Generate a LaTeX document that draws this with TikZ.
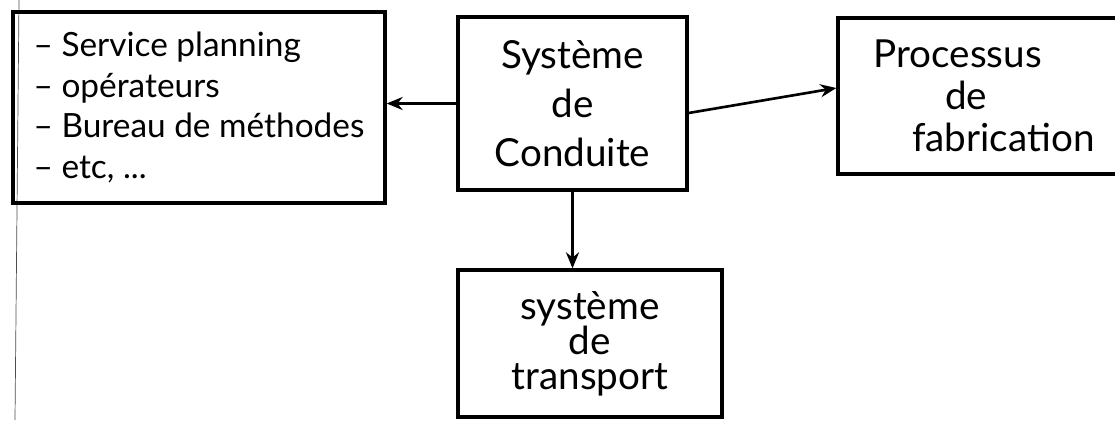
\documentclass[tikz,border=0pt]{standalone}
\usepackage{fontspec}
\setmainfont{Lato}
\usetikzlibrary{positioning, arrows.meta, calc}
\tikzstyle{block} = [draw=black, line width=1.9pt, rectangle, inner sep=0pt]
\tikzstyle{arrow} = [line width=1.5pt, black, -{Stealth[length=3.2mm, width=2.6mm]}]

\begin{document}
\begin{tikzpicture}[x=0.02cm, y=-0.02cm]
                \useasboundingbox (0,0) rectangle (1115,420);
                \clip (0,0) rectangle (1115,420);

                % Margin of the sheet
                \draw[thin, black!70] (19,0) -- (15,420);

                % Blocks
                \node[block, minimum width=7.44cm, minimum height=3.82cm, align=left,
                      font=\fontsize{19}{23}\selectfont] (acteurs) at (199,107.5)
                      {-- Service planning\\-- opérateurs\\-- Bureau de méthodes\\-- etc, ...};
                \node[block, minimum width=4.58cm, minimum height=3.46cm, align=center,
                      font=\fontsize{22}{28}\selectfont] (conduite) at (572.5,103.5)
                      {Système\\de\\Conduite};
                \node[block, minimum width=5.84cm, minimum height=3.12cm, align=left,
                      font=\fontsize{22}{24}\selectfont] (fabrication) at (984,96)
                      {Processus\\\hspace*{1.85em}de\\\hspace*{1em}fabrication};
                \node[block, minimum width=5.28cm, minimum height=2.94cm, align=center,
                      font=\fontsize{22}{20}\selectfont] (transport) at (590,343.5)
                      {système\\de\\transport};

                % Links
                \draw[arrow] (conduite.west) -- (conduite.west -| acteurs.east);
                \draw[arrow] ($(conduite.east)+(0,9.5)$) -- ($(fabrication.west)+(0,-8)$);
                \draw[arrow] (conduite.south) -- (conduite.south |- transport.north);
            \end{tikzpicture}
\end{document}
